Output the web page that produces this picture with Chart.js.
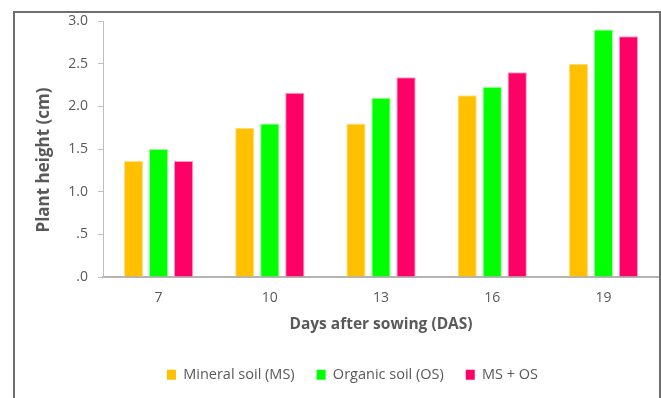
<!DOCTYPE html>
<html>
<head>
<meta charset="utf-8">
<script src="https://cdn.jsdelivr.net/npm/chart.js@4.4.1/dist/chart.umd.min.js"></script>
<style>
  html, body { margin: 0; padding: 0; background: #ffffff; }
  #wrap { position: relative; width: 661px; height: 398px; }
</style>
</head>
<body>
<div id="wrap"><canvas id="chart" width="661" height="398"></canvas></div>
<script>
// Plant height by days after sowing, for three growing media
const days = ['7', '10', '13', '16', '19'];
const mineralSoil = [1.36, 1.75, 1.80, 2.13, 2.50];
const organicSoil = [1.50, 1.80, 2.10, 2.23, 2.90];
const mixedSoil   = [1.36, 2.16, 2.34, 2.40, 2.82];
const yTickLabels = ['.0', '.5', '1.0', '1.5', '2.0', '2.5', '3.0'];
const seriesNames = ['Mineral soil (MS)', 'Organic soil (OS)', 'MS + OS'];

const TEXT = '#595959';
const FONT = "'Open Sans', sans-serif";
const CHART_BOTTOM = 277;   // pixel row of the value axis zero line
const BOTTOM_PAD = 6;

// outer frame: left, top and right edges
const framePlugin = {
  id: 'frame',
  afterDraw(chart) {
    const ctx = chart.ctx;
    ctx.save();
    ctx.strokeStyle = '#6e6e6e';
    ctx.lineWidth = 2;
    ctx.beginPath();
    ctx.moveTo(14, 398);
    ctx.lineTo(14, 12);
    ctx.lineTo(660, 12);
    ctx.lineTo(660, 398);
    ctx.stroke();
    ctx.restore();
  }
};

// vertical axis title
const yTitlePlugin = {
  id: 'yTitle',
  afterDraw(chart) {
    const ctx = chart.ctx;
    ctx.save();
    ctx.translate(44, 160);
    ctx.rotate(-Math.PI / 2);
    ctx.font = "bold 17px " + FONT;
    ctx.fillStyle = TEXT;
    ctx.textAlign = 'center';
    ctx.textBaseline = 'middle';
    ctx.fillText('Plant height (cm)', 0, 0);
    ctx.restore();
  }
};

// nudge the legend row sideways
const legendShift = {
  id: 'legendShift',
  afterLayout(chart) {
    const dx = 16;
    chart.legend.left += dx;
    chart.legend.right += dx;
  }
};

const barDefaults = { borderWidth: 1, borderSkipped: 'start' };

new Chart(document.getElementById('chart'), {
  type: 'bar',
  data: {
    labels: days,
    datasets: [
      Object.assign({ label: seriesNames[0], data: mineralSoil, backgroundColor: '#FFC000', borderColor: '#FFE08A' }, barDefaults),
      Object.assign({ label: seriesNames[1], data: organicSoil, backgroundColor: '#00FF00', borderColor: '#9CFF9C' }, barDefaults),
      Object.assign({ label: seriesNames[2], data: mixedSoil,   backgroundColor: '#FF0066', borderColor: '#FF9CC3' }, barDefaults)
    ]
  },
  options: {
    responsive: false,
    animation: false,
    categoryPercentage: 0.675,
    barPercentage: 0.77,
    layout: { padding: { left: 14, top: 21, right: 2, bottom: BOTTOM_PAD } },
    plugins: {
      tooltip: { enabled: false },
      legend: {
        position: 'bottom',
        labels: {
          color: TEXT,
          font: { family: FONT, size: 14.5 },
          boxWidth: 9,
          boxHeight: 10,
          padding: 22,
          generateLabels(chart) {
            const items = Chart.defaults.plugins.legend.labels.generateLabels(chart);
            items.forEach(it => { it.strokeStyle = it.fillStyle; it.lineWidth = 0; });
            return items;
          }
        }
      }
    },
    scales: {
      x: {
        grid: { display: false, drawTicks: false },
        border: { display: true, color: '#b3b3b3', width: 2 },
        ticks: { color: TEXT, font: { family: FONT, size: 14 }, padding: 13 },
        title: {
          display: true,
          text: 'Days after sowing (DAS)',
          color: TEXT,
          font: { family: FONT, size: 15.5, weight: 'bold' },
          padding: { top: 0, bottom: 12 }
        },
        afterFit(scale) {
          scale.height = 398 - BOTTOM_PAD - scale.chart.legend.height - CHART_BOTTOM;
        }
      },
      y: {
        min: 0,
        max: 3,
        grid: { drawOnChartArea: false, drawTicks: true, tickLength: 5, color: '#bfbfbf' },
        border: { display: true, color: '#bfbfbf', width: 1 },
        ticks: {
          stepSize: 0.5,
          color: TEXT,
          font: { family: FONT, size: 14 },
          padding: 10,
          callback: (value, index) => yTickLabels[index]
        },
        afterFit(scale) {
          scale.width = 89;
        }
      }
    }
  },
  plugins: [framePlugin, yTitlePlugin, legendShift]
});
</script>
</body>
</html>
